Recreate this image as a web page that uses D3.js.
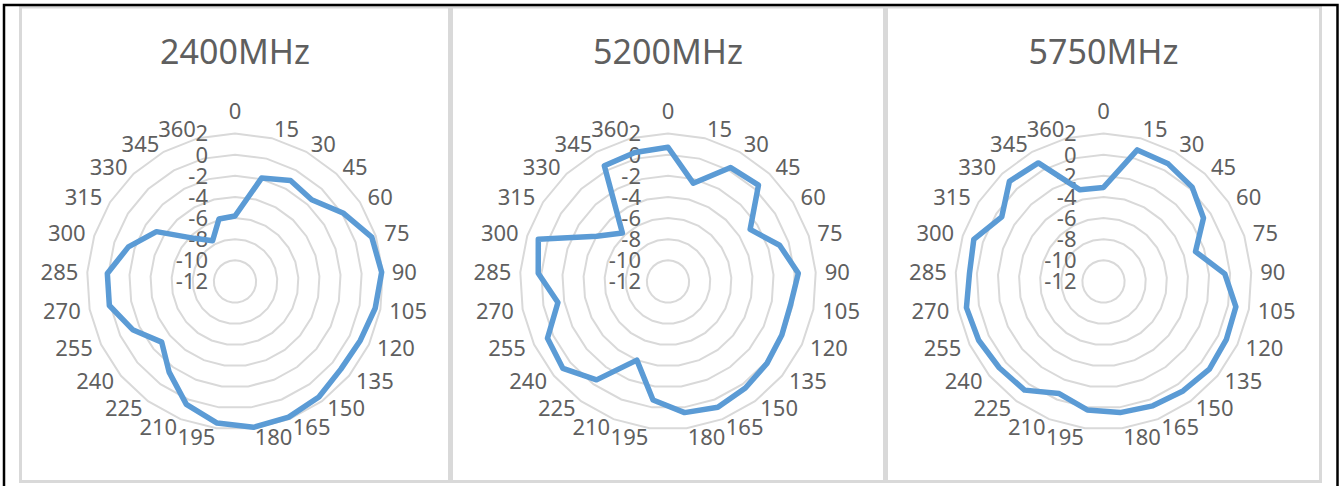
<!DOCTYPE html>
<html>
<head>
<meta charset="utf-8">
<script src="https://cdn.jsdelivr.net/npm/d3@7"></script>
<style>
  html, body { margin: 0; padding: 0; background: #fff; }
  svg { display: block; }
  text { font-family: "Noto Sans", "Liberation Sans", sans-serif; fill: #5f5f5f; }
</style>
</head>
<body>
<svg id="chart" width="1341" height="486"></svg>
<script>
// Azimuth categories (degrees), 0..360 in 15° steps
const categories = ['0','15','30','45','60','75','90','105','120','135','150','165',
                    '180','195','210','225','240','255','270','285','300','315','330','345','360'];

// Panel titles
const freqLabels = ['2400MHz', '5200MHz', '5750MHz'];

// Measured gain (dB) per azimuth category
const gain2400 = [-5.8, -1.9, -1.1, -1.4, 0.1, 1.6, 1.9, 1.5, 1.1, 1.0, 1.5, 1.8,
                  1.9, 1.5, 0.5, -1.4, -3.0, -1.3, 0.1, 0.1, -1.4, -3.2, -6.4, -7.6, -5.9];
const gain5200 = [0.7, -2.4, 0.3, 0.5, -2.8, -0.9, 0.35, -0.2, -0.1, 0.15, 0.45, 0.8,
                  0.5, -0.7, -4.0, -0.5, 0.9, 0.6, -1.4, 0.3, 0.9, -4.0, -5.7, 0.5, 0.6];
const gain5750 = [-3.1, 0.85, 0.7, 0.25, -0.8, -2.85, -0.5, 0.75, 0.85, 1.0, 0.8, 0.65,
                  0.5, 0.25, -0.6, 0.7, 0.8, 1.05, 1.2, 0.7, 0.9, -0.6, 1.0, 0.8, -3.05];

// Radial axis tick values
const radialTicks = [-12, -10, -8, -6, -4, -2, 0, 2];

const series = [gain2400, gain5200, gain5750];

const svg = d3.select('#chart');

// Panel frames
const panels = [
  { x0: 20.5,  x1: 449.5 },
  { x0: 451.5, x1: 884.5 },
  { x0: 886.5, x1: 1320.5 }
];
const panelTop = 7, panelBottom = 481.5;
const cy = 281.5;
const R = 148;

const r = d3.scaleLinear().domain([d3.min(radialTicks), d3.max(radialTicks)]).range([0, R]);
const angle = d3.scaleLinear().domain([0, categories.length]).range([0, 2 * Math.PI]);

panels.forEach((p, k) => {
  const cx = (p.x0 + p.x1) / 2;

  svg.append('rect')
    .attr('x', p.x0).attr('y', panelTop)
    .attr('width', p.x1 - p.x0).attr('height', panelBottom - panelTop)
    .attr('fill', '#fff')
    .attr('stroke', '#d9d9d9').attr('stroke-width', 3);

  const g = svg.append('g').attr('transform', `translate(${cx},${cy})`);

  // Title
  svg.append('text')
    .attr('x', cx).attr('y', 64)
    .attr('text-anchor', 'middle')
    .style('font-size', '34px')
    .text(freqLabels[k]);

  // Polygonal grid rings
  const ring = d3.lineRadial()
    .angle((d, i) => angle(i))
    .radius(d => d)
    .curve(d3.curveLinearClosed);
  radialTicks.filter(v => v > d3.min(radialTicks)).forEach(v => {
    g.append('path')
      .attr('d', ring(categories.map(() => r(v))))
      .attr('fill', 'none')
      .attr('stroke', '#d9d9d9')
      .attr('stroke-width', 2);
  });

  // Radial tick labels along the 0° spoke
  g.selectAll('text.tick')
    .data(radialTicks)
    .join('text')
    .attr('class', 'tick')
    .attr('x', -27)
    .attr('y', d => -r(d))
    .attr('dy', '0.36em')
    .attr('text-anchor', 'end')
    .style('font-size', '22px')
    .text(d => d);

  // Category labels around the outside
  const r0 = 157;
  g.selectAll('text.cat')
    .data(categories)
    .join('text')
    .attr('class', 'cat')
    .each(function(d, i) {
      const a = angle(i);
      const s = Math.sin(a), c = Math.cos(a);
      const t = d3.select(this);
      if (Math.abs(s) < 0.01) {
        t.attr('x', 0).attr('y', -(r0 + 13)).attr('text-anchor', 'middle');
      } else {
        t.attr('x', r0 * s).attr('y', -r0 * c).attr('text-anchor', s > 0 ? 'start' : 'end');
      }
    })
    .attr('dy', '0.36em')
    .style('font-size', '22px')
    .text(d => d);

  // Gain pattern
  const line = d3.lineRadial()
    .angle((d, i) => angle(i))
    .radius(d => r(d))
    .curve(d3.curveLinearClosed);
  g.append('path')
    .attr('d', line(series[k]))
    .attr('fill', 'none')
    .attr('stroke', '#5b9bd5')
    .attr('stroke-width', 5.5)
    .attr('stroke-linejoin', 'round');
});

// Outer frame
svg.append('rect')
  .attr('x', 4).attr('y', 5)
  .attr('width', 1333.5).attr('height', 600)
  .attr('fill', 'none')
  .attr('stroke', '#000').attr('stroke-width', 2.5);
</script>
</body>
</html>
